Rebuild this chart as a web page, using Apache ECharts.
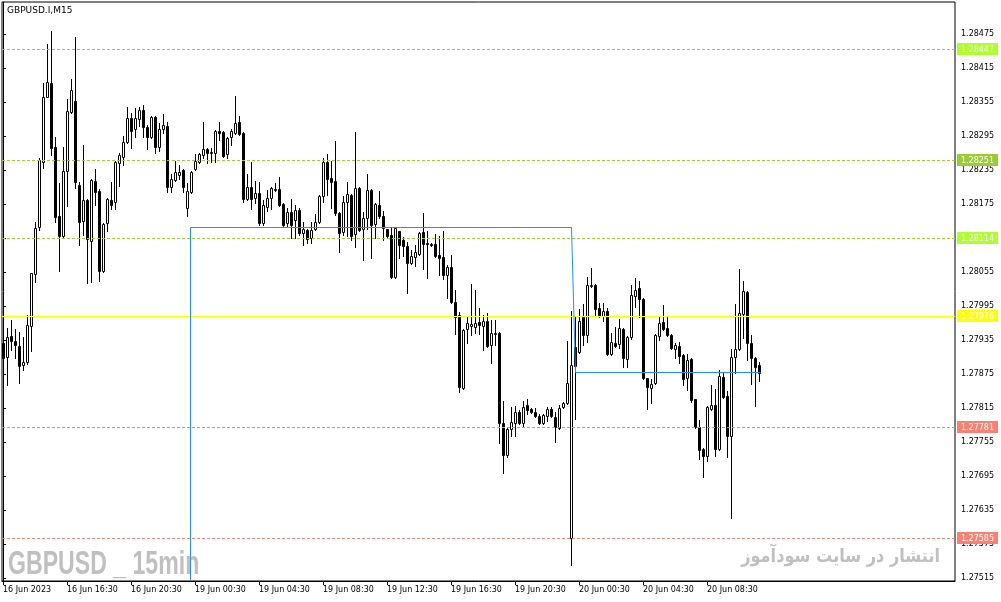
<!DOCTYPE html>
<html>
<head>
<meta charset="utf-8">
<title>GBPUSD.I M15</title>
<script src="https://cdn.jsdelivr.net/npm/echarts@6/dist/echarts.min.js"></script>
<style>
html, body { margin: 0; padding: 0; background: #fff; }
#chart { width: 1001px; height: 602px; }
</style>
</head>
<body>
<div id="chart"></div>
<script>
// 15 min bars, 16 Jun 12:30 -> 20 Jun 11:45, each row = [open, close, low, high]
var candles = [
    [1.27930, 1.27903, 1.27838, 1.27939], [1.27905, 1.27940, 1.27856, 1.27956], [1.27942, 1.27933, 1.27917, 1.27970],
    [1.27933, 1.27926, 1.27903, 1.27954], [1.27924, 1.27889, 1.27859, 1.27949], [1.27891, 1.27896, 1.27882, 1.27940],
    [1.27896, 1.27962, 1.27893, 1.27979], [1.27960, 1.28053, 1.27916, 1.28053], [1.28051, 1.28133, 1.28037, 1.28143],
    [1.28134, 1.28253, 1.28130, 1.28256], [1.28249, 1.28364, 1.28239, 1.28389], [1.28364, 1.28390, 1.28364, 1.28457],
    [1.28389, 1.28274, 1.28262, 1.28480], [1.28276, 1.28152, 1.28143, 1.28293], [1.28154, 1.28119, 1.28057, 1.28212],
    [1.28119, 1.28233, 1.28117, 1.28276], [1.28233, 1.28339, 1.28172, 1.28360], [1.28337, 1.28376, 1.28335, 1.28396],
    [1.28357, 1.28214, 1.28203, 1.28470], [1.28209, 1.28143, 1.28103, 1.28214], [1.28145, 1.28182, 1.28120, 1.28279],
    [1.28182, 1.28113, 1.28036, 1.28184], [1.28110, 1.28217, 1.28037, 1.28219], [1.28216, 1.28196, 1.28173, 1.28237],
    [1.28198, 1.28057, 1.28039, 1.28202], [1.28057, 1.28140, 1.28055, 1.28142], [1.28142, 1.28184, 1.28127, 1.28186],
    [1.28182, 1.28173, 1.28166, 1.28214], [1.28179, 1.28249, 1.28166, 1.28251], [1.28247, 1.28262, 1.28207, 1.28265],
    [1.28258, 1.28284, 1.28244, 1.28295], [1.28284, 1.28327, 1.28282, 1.28346], [1.28327, 1.28304, 1.28274, 1.28336],
    [1.28307, 1.28327, 1.28293, 1.28344], [1.28325, 1.28341, 1.28313, 1.28346], [1.28341, 1.28311, 1.28293, 1.28350],
    [1.28311, 1.28293, 1.28272, 1.28314], [1.28293, 1.28329, 1.28292, 1.28330], [1.28329, 1.28276, 1.28265, 1.28330],
    [1.28276, 1.28307, 1.28269, 1.28318], [1.28307, 1.28314, 1.28300, 1.28334], [1.28313, 1.28205, 1.28196, 1.28320],
    [1.28205, 1.28219, 1.28196, 1.28228], [1.28217, 1.28232, 1.28216, 1.28251], [1.28226, 1.28232, 1.28219, 1.28244],
    [1.28235, 1.28205, 1.28196, 1.28237], [1.28168, 1.28198, 1.28154, 1.28212], [1.28196, 1.28232, 1.28194, 1.28234],
    [1.28237, 1.28251, 1.28235, 1.28263], [1.28249, 1.28263, 1.28247, 1.28265], [1.28262, 1.28272, 1.28256, 1.28320],
    [1.28272, 1.28265, 1.28247, 1.28274], [1.28265, 1.28267, 1.28249, 1.28274], [1.28265, 1.28304, 1.28249, 1.28306],
    [1.28304, 1.28300, 1.28288, 1.28320], [1.28302, 1.28260, 1.28258, 1.28304], [1.28263, 1.28292, 1.28256, 1.28293],
    [1.28293, 1.28304, 1.28279, 1.28307], [1.28300, 1.28318, 1.28298, 1.28366], [1.28320, 1.28299, 1.28297, 1.28330],
    [1.28300, 1.28184, 1.28179, 1.28302], [1.28184, 1.28205, 1.28182, 1.28228], [1.28205, 1.28184, 1.28166, 1.28249],
    [1.28186, 1.28194, 1.28177, 1.28216], [1.28194, 1.28142, 1.28138, 1.28214], [1.28142, 1.28173, 1.28138, 1.28182],
    [1.28170, 1.28186, 1.28163, 1.28200], [1.28186, 1.28203, 1.28166, 1.28205], [1.28200, 1.28202, 1.28198, 1.28212],
    [1.28202, 1.28173, 1.28172, 1.28223], [1.28175, 1.28138, 1.28134, 1.28177], [1.28142, 1.28161, 1.28134, 1.28168],
    [1.28161, 1.28138, 1.28115, 1.28184], [1.28147, 1.28164, 1.28115, 1.28173], [1.28164, 1.28124, 1.28120, 1.28168],
    [1.28124, 1.28131, 1.28103, 1.28143], [1.28129, 1.28113, 1.28106, 1.28131], [1.28115, 1.28129, 1.28106, 1.28143],
    [1.28131, 1.28143, 1.28129, 1.28157], [1.28143, 1.28189, 1.28141, 1.28191], [1.28189, 1.28249, 1.28179, 1.28256],
    [1.28249, 1.28219, 1.28191, 1.28263], [1.28221, 1.28214, 1.28168, 1.28251], [1.28216, 1.28159, 1.28156, 1.28286],
    [1.28159, 1.28124, 1.28090, 1.28161], [1.28126, 1.28179, 1.28120, 1.28189], [1.28179, 1.28193, 1.28119, 1.28214],
    [1.28191, 1.28119, 1.28112, 1.28193], [1.28122, 1.28203, 1.28099, 1.28302], [1.28203, 1.28129, 1.28127, 1.28205],
    [1.28131, 1.28150, 1.28076, 1.28161], [1.28150, 1.28200, 1.28131, 1.28228], [1.28200, 1.28138, 1.28080, 1.28202],
    [1.28140, 1.28175, 1.28115, 1.28177], [1.28173, 1.28154, 1.28150, 1.28198], [1.28154, 1.28133, 1.28112, 1.28163],
    [1.28131, 1.28119, 1.28117, 1.28131], [1.28120, 1.28046, 1.28044, 1.28133], [1.28046, 1.28133, 1.28044, 1.28134],
    [1.28127, 1.28103, 1.28080, 1.28127], [1.28112, 1.28101, 1.28083, 1.28117], [1.28101, 1.28071, 1.28018, 1.28108],
    [1.28071, 1.28083, 1.28069, 1.28094], [1.28081, 1.28090, 1.28066, 1.28103], [1.28087, 1.28124, 1.28085, 1.28126],
    [1.28126, 1.28104, 1.28060, 1.28159], [1.28106, 1.28104, 1.28044, 1.28127], [1.28104, 1.28103, 1.28101, 1.28106],
    [1.28104, 1.28083, 1.28081, 1.28122], [1.28085, 1.28080, 1.28050, 1.28119], [1.28081, 1.28050, 1.28043, 1.28127],
    [1.28050, 1.28064, 1.28009, 1.28067], [1.28064, 1.28002, 1.28000, 1.28085], [1.28002, 1.27976, 1.27946, 1.28023],
    [1.27979, 1.27852, 1.27843, 1.27984], [1.27850, 1.27953, 1.27848, 1.27954], [1.27954, 1.27965, 1.27930, 1.27977],
    [1.27960, 1.27963, 1.27944, 1.28034], [1.27958, 1.27965, 1.27947, 1.28023], [1.27967, 1.27962, 1.27946, 1.27991],
    [1.27960, 1.27969, 1.27917, 1.27979], [1.27969, 1.27924, 1.27923, 1.27983], [1.27926, 1.27947, 1.27894, 1.27970],
    [1.27946, 1.27947, 1.27926, 1.27970], [1.27947, 1.27788, 1.27753, 1.27949], [1.27788, 1.27732, 1.27700, 1.27827],
    [1.27732, 1.27778, 1.27729, 1.27780], [1.27778, 1.27790, 1.27766, 1.27817], [1.27788, 1.27808, 1.27766, 1.27819],
    [1.27808, 1.27788, 1.27786, 1.27812], [1.27788, 1.27817, 1.27783, 1.27827], [1.27820, 1.27812, 1.27804, 1.27831],
    [1.27813, 1.27808, 1.27806, 1.27815], [1.27808, 1.27801, 1.27799, 1.27815], [1.27801, 1.27788, 1.27786, 1.27804],
    [1.27788, 1.27803, 1.27786, 1.27804], [1.27801, 1.27813, 1.27792, 1.27817], [1.27813, 1.27801, 1.27799, 1.27817],
    [1.27799, 1.27781, 1.27755, 1.27808], [1.27780, 1.27815, 1.27778, 1.27820], [1.27817, 1.27824, 1.27815, 1.27826],
    [1.27824, 1.27859, 1.27822, 1.27933], [1.27586, 1.27891, 1.27538, 1.27986], [1.27923, 1.27889, 1.27796, 1.27976],
    [1.27914, 1.27969, 1.27912, 1.27990], [1.27976, 1.27944, 1.27926, 1.27999], [1.27944, 1.28032, 1.27931, 1.28046],
    [1.28030, 1.28032, 1.28028, 1.28062], [1.28032, 1.27990, 1.27979, 1.28034], [1.27991, 1.27977, 1.27976, 1.28000],
    [1.27977, 1.27986, 1.27969, 1.28000], [1.27986, 1.27910, 1.27908, 1.27991], [1.27910, 1.27931, 1.27909, 1.27947],
    [1.27930, 1.27924, 1.27922, 1.27958], [1.27928, 1.27956, 1.27921, 1.27972], [1.27954, 1.27903, 1.27887, 1.27956],
    [1.27902, 1.27940, 1.27887, 1.27942], [1.27940, 1.28014, 1.27937, 1.28032], [1.28013, 1.28023, 1.27993, 1.28044],
    [1.28027, 1.28007, 1.27976, 1.28039], [1.28007, 1.27868, 1.27866, 1.28009], [1.27868, 1.27852, 1.27813, 1.27868],
    [1.27850, 1.27857, 1.27824, 1.27866], [1.27859, 1.27944, 1.27857, 1.27946], [1.27942, 1.27965, 1.27935, 1.27977],
    [1.27967, 1.27954, 1.27953, 1.27997], [1.27956, 1.27944, 1.27942, 1.27976], [1.27944, 1.27921, 1.27919, 1.27946],
    [1.27919, 1.27926, 1.27903, 1.27930], [1.27924, 1.27907, 1.27894, 1.27931], [1.27909, 1.27866, 1.27856, 1.27910],
    [1.27868, 1.27900, 1.27847, 1.27910], [1.27902, 1.27829, 1.27826, 1.27903], [1.27831, 1.27781, 1.27779, 1.27831],
    [1.27781, 1.27741, 1.27725, 1.27794], [1.27743, 1.27730, 1.27693, 1.27745], [1.27730, 1.27817, 1.27721, 1.27819],
    [1.27813, 1.27820, 1.27811, 1.27856], [1.27820, 1.27743, 1.27730, 1.27849], [1.27743, 1.27872, 1.27741, 1.27882],
    [1.27870, 1.27834, 1.27832, 1.27877], [1.27836, 1.27766, 1.27729, 1.27845], [1.27766, 1.27905, 1.27621, 1.27919],
    [1.27905, 1.27919, 1.27877, 1.27999], [1.27919, 1.27983, 1.27917, 1.28060], [1.27981, 1.28021, 1.27939, 1.28039],
    [1.28020, 1.27930, 1.27900, 1.28022], [1.27930, 1.27903, 1.27857, 1.27944], [1.27903, 1.27887, 1.27819, 1.27905],
    [1.27891, 1.27877, 1.27863, 1.27896]
];

// time axis labels sit on these bar numbers
var xTickIdx = [0, 16, 32, 48, 64, 80, 96, 112, 128, 144, 160, 176];
var xTickLabels = ['16 Jun 2023', '16 Jun 16:30', '16 Jun 20:30', '19 Jun 00:30', '19 Jun 04:30', '19 Jun 08:30',
                   '19 Jun 12:30', '19 Jun 16:30', '19 Jun 20:30', '20 Jun 00:30', '20 Jun 04:30', '20 Jun 08:30'];

var priceTicks = [1.27515, 1.27575, 1.27635, 1.27695, 1.27755, 1.27815, 1.27875, 1.27935, 1.27995,
                  1.28055, 1.28115, 1.28175, 1.28235, 1.28295, 1.28355, 1.28415, 1.28475];

// horizontal levels drawn on the chart
var levelPrices = [1.28447, 1.28251, 1.28114, 1.27976, 1.27781, 1.27585];

// blue step line: [bar, price]
var blueLine = [[46.75, 1.27510], [46.75, 1.28134], [142, 1.28134], [143, 1.27878], [189.25, 1.27878]];

// styles
var levelLine = ['#9acd32', '#9acd32', '#9acd32', '#ffff00', '#fa8072', '#fa8072'];
var levelBox = ['#adff2f', '#9acd32', '#adff2f', '#ffff00', '#fa8072', '#fa8072'];
var levelDash = [[3, 2], [3, 2], [3, 2], null, [3, 2], [3, 2]];

var xMin = -0.25, xMax = 238;

var myChart = echarts.init(document.getElementById('chart'));

var candleData = candles.map(function (r, i) { return [i, r[0], r[1], r[2], r[3]]; });

var blueSegs = [];
for (var s = 0; s < blueLine.length - 1; s++) {
    blueSegs.push([blueLine[s][0], blueLine[s][1], blueLine[s + 1][0], blueLine[s + 1][1]]);
}

var levelData = levelPrices.map(function (p) { return [xMin, p]; });

function px(v) { return Math.floor(v) + 0.5; }

function renderCandle(params, api) {
    var i = api.value(0);
    var o = api.value(1), c = api.value(2), lo = api.value(3), hi = api.value(4);
    var pO = api.coord([i, o]);
    var pC = api.coord([i, c]);
    var pL = api.coord([i, lo]);
    var pH = api.coord([i, hi]);
    var x = px(pO[0]);
    var yTop = Math.round(Math.min(pO[1], pC[1])) + 0.5;
    var yBot = Math.round(Math.max(pO[1], pC[1])) + 0.5;
    var up = c >= o;
    return {
        type: 'group',
        children: [
            {
                type: 'line',
                shape: { x1: x, y1: Math.round(pH[1]), x2: x, y2: Math.round(pL[1]) + 1 },
                style: { stroke: '#000', lineWidth: 1 }
            },
            {
                type: 'rect',
                shape: { x: x - 1, y: yTop, width: 2, height: Math.max(yBot - yTop, 0) },
                style: { fill: up ? '#fff' : '#000', stroke: '#000', lineWidth: 1 }
            }
        ]
    };
}

function renderSeg(params, api) {
    var a = api.coord([api.value(0), api.value(1)]);
    var b = api.coord([api.value(2), api.value(3)]);
    return {
        type: 'line',
        shape: { x1: px(a[0]), y1: px(a[1]), x2: px(b[0]), y2: px(b[1]) },
        style: { stroke: '#1e90ff', lineWidth: 1 }
    };
}

function renderLevel(params, api) {
    var k = params.dataIndex;
    var p = api.value(1);
    var cs = params.coordSys;
    var y = px(api.coord([api.value(0), p])[1]);
    var right = cs.x + cs.width;
    return {
        type: 'group',
        children: [
            {
                type: 'line',
                shape: { x1: cs.x, y1: y, x2: right, y2: y },
                style: { stroke: levelLine[k], lineWidth: 1, lineDash: levelDash[k] }
            },
            {
                type: 'rect',
                shape: { x: right + 2, y: y - 6.5, width: 41, height: 12 },
                style: { fill: levelBox[k] }
            },
            {
                type: 'text',
                x: right + 22.5, y: y,
                style: {
                    text: p.toFixed(5), fill: '#fff', font: '8px "DejaVu Sans"',
                    align: 'center', verticalAlign: 'middle'
                }
            }
        ]
    };
}

var option = {
    animation: false,
    backgroundColor: '#fff',
    grid: {
        left: 2, top: 2, right: 46, bottom: 21,
        show: true, borderColor: '#000', borderWidth: 1, backgroundColor: '#fff'
    },
    xAxis: {
        type: 'value',
        min: xMin,
        max: xMax,
        axisLine: { show: true, onZero: false, lineStyle: { color: '#000', width: 1 } },
        axisTick: { show: true, customValues: xTickIdx, length: 4, lineStyle: { color: '#000' } },
        axisLabel: {
            customValues: xTickIdx,
            align: 'left',
            margin: 5,
            color: '#000',
            fontSize: 8,
            fontFamily: 'DejaVu Sans',
            formatter: function (v) {
                var k = xTickIdx.indexOf(Math.round(v));
                return k >= 0 ? xTickLabels[k] : '';
            }
        },
        splitLine: { show: false }
    },
    yAxis: {
        type: 'value',
        position: 'right',
        min: 1.275097,
        max: 1.285315,
        axisLine: { show: true, lineStyle: { color: '#000', width: 1 } },
        axisTick: { show: true, customValues: priceTicks, length: 3, lineStyle: { color: '#000' } },
        axisLabel: {
            customValues: priceTicks,
            margin: 6,
            color: '#000',
            fontSize: 8,
            fontFamily: 'DejaVu Sans',
            formatter: function (v) { return v.toFixed(5); }
        },
        splitLine: { show: false }
    },
    graphic: [
        {
            type: 'text', x: 7, y: 6,
            style: { text: 'GBPUSD.I,M15', font: '9px "DejaVu Sans"', fill: '#000' }
        },
        {
            type: 'text', x: 8, y: 548, scaleX: 0.70,
            style: { text: 'GBPUSD _ 15min', font: 'bold 33px "Liberation Sans"', fill: '#c0c0c0' }
        },
        {
            type: 'text', x: 940, y: 548, scaleX: 0.85,
            style: { text: 'انتشار در سایت سودآموز', font: 'bold 19px "DejaVu Sans"', fill: '#c0c0c0', align: 'right' }
        }
    ],
    series: [
        {
            name: 'GBPUSD',
            type: 'custom',
            renderItem: renderCandle,
            data: candleData,
            encode: { x: 0, y: [1, 2, 3, 4] },
            z: 3
        },
        {
            name: 'levels',
            type: 'custom',
            renderItem: renderLevel,
            data: levelData,
            encode: { x: 0, y: 1 },
            clip: false,
            silent: true,
            z: 4
        },
        {
            name: 'blue',
            type: 'custom',
            renderItem: renderSeg,
            data: blueSegs,
            encode: { x: [0, 2], y: [1, 3] },
            silent: true,
            z: 5
        }
    ]
};

option && myChart.setOption(option);
</script>
</body>
</html>
